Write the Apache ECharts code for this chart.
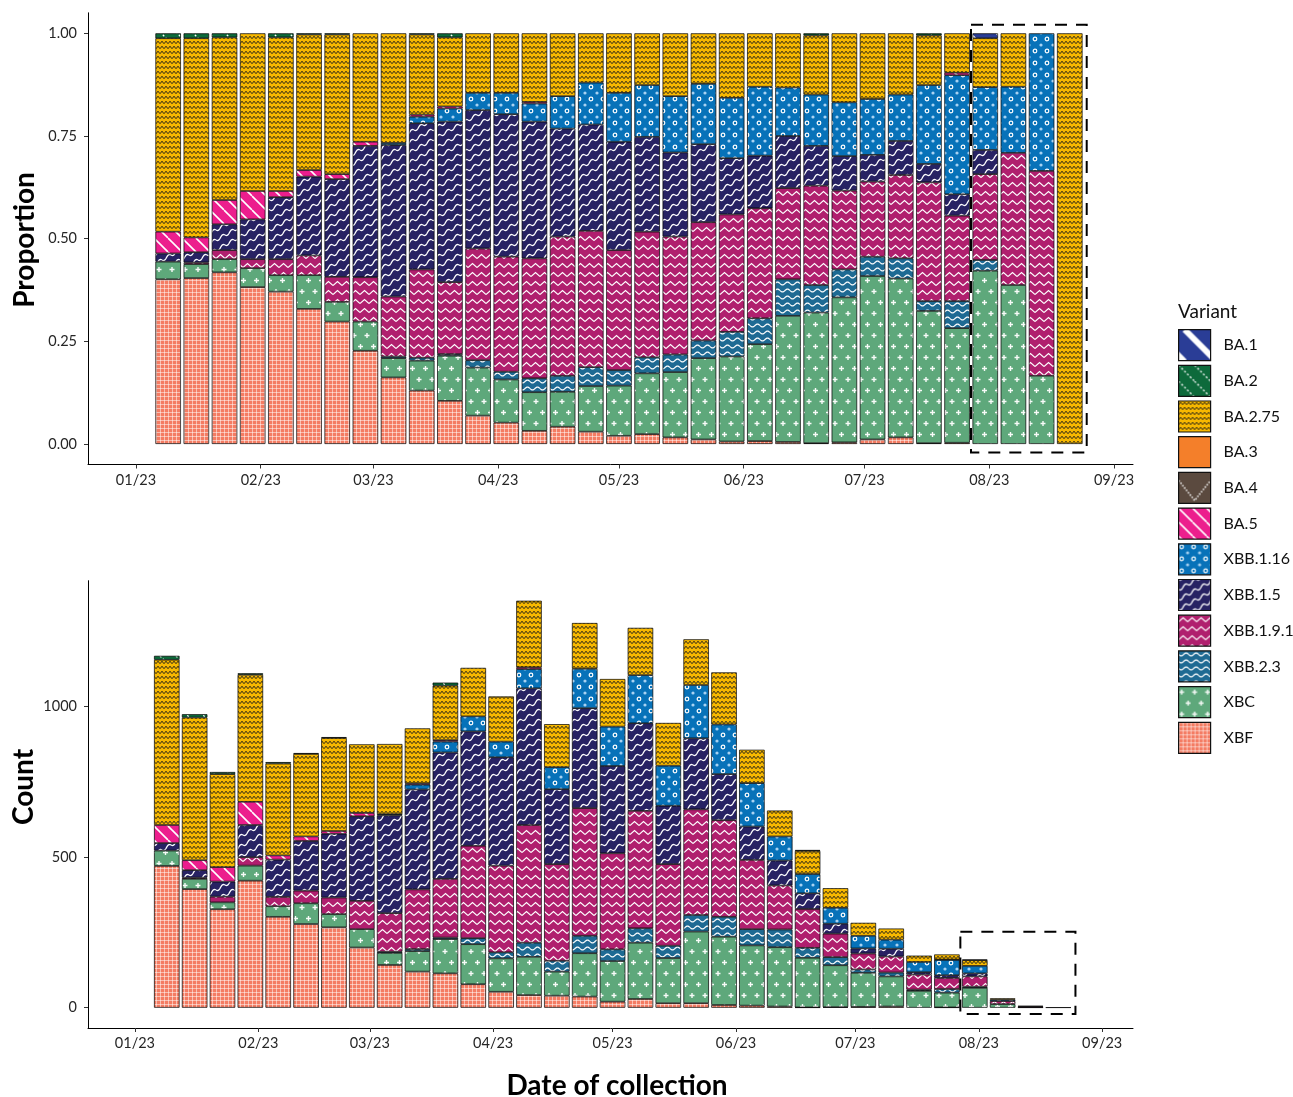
<!DOCTYPE html>
<html>
<head>
<meta charset="utf-8">
<script src="https://cdn.jsdelivr.net/npm/echarts@6/dist/echarts.min.js"></script>
<style>html,body{margin:0;padding:0;background:#fff;}#c{width:1293px;height:1097px;}</style>
</head>
<body>
<div id="c"></div>
<script>
// ---------- DATA ----------
const weeks = ['2023-01-09','2023-01-16','2023-01-23','2023-01-30','2023-02-06','2023-02-13','2023-02-20','2023-02-27','2023-03-06','2023-03-13','2023-03-20','2023-03-27','2023-04-03','2023-04-10','2023-04-17','2023-04-24','2023-05-01','2023-05-08','2023-05-15','2023-05-22','2023-05-29','2023-06-05','2023-06-12','2023-06-19','2023-06-26','2023-07-03','2023-07-10','2023-07-17','2023-07-24','2023-07-31','2023-08-07','2023-08-14','2023-08-21'];
const monthTicks = ['2023-01-01','2023-02-01','2023-03-01','2023-04-01','2023-05-01','2023-06-01','2023-07-01','2023-08-01','2023-09-01'];
const yTicksProp = [0, 0.25, 0.5, 0.75, 1];
const yTicksCount = [0, 500, 1000];
const variants = ['BA.1','BA.2','BA.2.75','BA.3','BA.4','BA.5','XBB.1.16','XBB.1.5','XBB.1.9.1','XBB.2.3','XBC','XBF'];

// proportions (top panel)
const pBA1    = [0,0,0,0,0,0,0,0,0,0,0,0,0,0,0,0,0,0,0,0,0,0,0,0,0,0,0,0,0,0.012,0,0,0];
const pBA2    = [0.012,0.012,0.010,0,0.010,0.003,0.003,0,0,0.003,0.010,0,0,0,0,0,0,0,0,0,0,0,0,0.005,0,0,0,0.005,0,0,0,0,0];
const pBA275  = [0.471,0.485,0.396,0.384,0.374,0.330,0.340,0.264,0.267,0.195,0.168,0.145,0.145,0.167,0.153,0.120,0.145,0.126,0.153,0.123,0.157,0.130,0.132,0.144,0.168,0.160,0.149,0.121,0.096,0.119,0.130,0,1.0];
const pBA3    = [0,0,0,0,0,0,0,0,0,0,0,0,0,0,0,0,0,0,0,0,0,0,0,0,0,0,0,0,0,0,0,0,0];
const pBA4    = [0,0,0,0,0,0,0,0,0,0,0,0,0,0,0,0,0,0,0,0,0,0,0,0,0,0,0,0,0,0,0,0,0];
const pBA5    = [0.053,0.036,0.059,0.069,0.015,0.016,0.012,0.010,0,0.005,0.005,0,0,0.004,0,0,0,0,0,0,0,0,0,0,0,0,0,0,0.006,0,0,0,0];
const pXBB116 = [0,0,0,0,0,0,0,0,0.005,0.016,0.032,0.042,0.052,0.044,0.079,0.102,0.119,0.126,0.137,0.147,0.147,0.168,0.118,0.125,0.131,0.136,0.113,0.192,0.290,0.153,0.161,0.335,0];
const pXBB15  = [0.020,0.025,0.063,0.097,0.151,0.192,0.238,0.320,0.369,0.356,0.391,0.337,0.347,0.333,0.263,0.259,0.264,0.231,0.205,0.190,0.137,0.128,0.127,0.097,0.084,0.065,0.083,0.045,0.052,0.059,0,0,0];
const pXBB191 = [0,0.004,0.022,0.022,0.039,0.048,0.061,0.108,0.146,0.215,0.175,0.272,0.280,0.292,0.339,0.332,0.292,0.306,0.287,0.288,0.286,0.268,0.222,0.242,0.192,0.183,0.203,0.289,0.208,0.209,0.322,0.499,0];
const pXBB23  = [0,0,0,0,0,0,0,0,0.004,0.007,0.004,0.018,0.019,0.034,0.039,0.046,0.038,0.039,0.043,0.043,0.060,0.063,0.089,0.067,0.068,0.047,0.049,0.024,0.066,0.026,0,0,0];
const pXBC    = [0.043,0.034,0.032,0.046,0.040,0.082,0.048,0.071,0.047,0.073,0.110,0.117,0.105,0.094,0.085,0.111,0.122,0.148,0.159,0.198,0.207,0.236,0.307,0.318,0.353,0.398,0.387,0.322,0.279,0.422,0.387,0.166,0];
const pXBF    = [0.401,0.404,0.418,0.382,0.371,0.329,0.298,0.227,0.162,0.130,0.105,0.069,0.052,0.032,0.042,0.030,0.020,0.024,0.016,0.011,0.006,0.007,0.005,0.002,0.004,0.011,0.016,0.002,0.003,0,0,0,0];

// counts (bottom panel)
const cBA1    = [0,0,0,0,0,0,0,0,0,0,0,0,0,0,0,0,0,0,0,0,0,0,0,0,0,0,0,0,0,2,0,0,0];
const cBA2    = [13,11,7,5,5,3,3,0,0,0,10,0,0,0,0,0,0,0,0,0,0,0,0,3,0,0,0,0,0,0,0,0,0];
const cBA275  = [549,474,309,422,305,274,309,228,233,183,181,161,150,221,143,152,158,157,142,152,173,111,86,77,65,43,37,21,17,19,4,0,1];
const cBA3    = [0,0,0,0,0,0,0,0,0,0,0,0,0,0,0,0,0,0,0,0,0,0,0,0,0,0,0,0,0,0,0,0,0];
const cBA4    = [0,0,0,0,0,0,0,0,0,0,0,0,0,0,0,0,0,0,0,0,0,0,0,0,0,0,0,0,0,0,0,0,0];
const cBA5    = [60,33,48,77,14,15,9,11,0,4,5,0,0,6,0,0,0,0,0,0,0,0,0,0,0,0,0,0,1,0,0,0,0];
const cXBB116 = [0,0,0,0,0,0,0,0,4,16,36,50,52,64,73,131,131,160,133,177,165,144,80,64,53,42,30,34,51,25,5,2,0];
const cXBB15  = [25,25,50,107,124,165,212,281,325,332,420,380,360,454,249,332,290,291,194,236,153,111,83,52,33,17,26,8,9,10,0,0,0];
const cXBB191 = [0,4,19,28,31,42,55,94,128,198,195,307,288,391,321,424,319,390,271,351,321,230,146,129,78,53,53,50,37,34,10,3,0];
const cXBB23  = [0,0,0,0,0,0,0,0,4,7,5,20,20,47,36,58,39,48,41,55,66,54,59,33,27,11,13,4,12,4,0,0,0];
const cXBC    = [51,34,23,50,35,69,44,61,40,68,114,133,111,127,80,144,135,187,150,238,227,200,197,165,139,113,100,56,49,66,12,1,0];
const cXBF    = [471,394,327,422,302,278,267,200,142,120,114,78,53,42,40,37,20,29,15,15,9,7,4,1,2,3,4,0,1,0,0,0,0];

// highlighted window (dashed boxes)
const hlTop    = {from: [2023,6,27,11], to: [2023,7,25,5], lo: -0.021, hi: 1.021};
const hlBottom = {from: [2023,6,27,9],  to: [2023,7,25,7], lo: -21,    hi: 252};

// ---------- HELPERS ----------
const ts = s => { const [y,m,d] = s.split('-').map(Number); return new Date(y, m-1, d).getTime(); };
const dt = a => new Date(a[0], a[1], a[2], a[3] || 0).getTime();
const propArr = {'BA.1':pBA1,'BA.2':pBA2,'BA.2.75':pBA275,'BA.3':pBA3,'BA.4':pBA4,'BA.5':pBA5,'XBB.1.16':pXBB116,'XBB.1.5':pXBB15,'XBB.1.9.1':pXBB191,'XBB.2.3':pXBB23,'XBC':pXBC,'XBF':pXBF};
const cntArr  = {'BA.1':cBA1,'BA.2':cBA2,'BA.2.75':cBA275,'BA.3':cBA3,'BA.4':cBA4,'BA.5':cBA5,'XBB.1.16':cXBB116,'XBB.1.5':cXBB15,'XBB.1.9.1':cXBB191,'XBB.2.3':cXBB23,'XBC':cXBC,'XBF':cXBF};

function tile(w, h, bg, fn) {
  const c = document.createElement('canvas'); c.width = w; c.height = h;
  const g = c.getContext('2d'); g.fillStyle = bg; g.fillRect(0, 0, w, h);
  if (fn) fn(g, w, h);
  return {image: c, repeat: 'repeat'};
}
function backDiag(g, w, h, off) {
  for (const k of [-1, 0, 1]) { g.beginPath(); g.moveTo(k*w + off, 0); g.lineTo(k*w + off + h, h); g.stroke(); }
}
const patterns = {
  'BA.1': tile(32, 32, '#2a3d96', (g,w,h) => { g.strokeStyle = '#fff'; g.lineWidth = 6; backDiag(g,w,h,6); }),
  'BA.2': tile(16, 16, '#0d6a3b', (g,w,h) => { g.strokeStyle = '#fff'; g.lineWidth = 1.3; g.setLineDash([2,2]); backDiag(g,w,h,0); }),
  'BA.2.75': tile(4, 5, '#f7b800', (g) => { g.strokeStyle = '#1a1a1a'; g.lineWidth = 0.9; g.beginPath(); g.moveTo(0,3.8); g.lineTo(2,1.2); g.lineTo(4,3.8); g.stroke(); }),
  'BA.3': '#f47f2a',
  'BA.4': tile(32, 32, '#5b4a3f', (g) => { g.strokeStyle = '#fff'; g.lineWidth = 1.5; g.setLineDash([1.5,1.5]); g.beginPath(); g.moveTo(0,8); g.lineTo(16,28); g.lineTo(32,8); g.stroke(); }),
  'BA.5': tile(14, 14, '#ec1e8d', (g,w,h) => { g.strokeStyle = '#fff'; g.lineWidth = 1.6; backDiag(g,w,h,0); }),
  'XBB.1.16': tile(12, 12, '#0772b9', (g) => { g.strokeStyle = '#fff'; g.lineWidth = 1.2; g.beginPath(); g.arc(3,3,1.8,0,Math.PI*2); g.stroke(); g.fillStyle = '#a8d2f2'; g.beginPath(); g.arc(9,9,1.6,0,Math.PI*2); g.fill(); }),
  'XBB.1.5': tile(18, 10, '#272263', (g,w,h) => { g.strokeStyle = '#fff'; g.lineWidth = 1.3;
      for (const o of [-h, 0, h]) { g.beginPath(); for (let x = 0; x <= w; x += 0.5) { const y = h - x*h/w + o + 1.6*Math.sin(4*Math.PI*x/w); if (x === 0) g.moveTo(x,y); else g.lineTo(x,y); } g.stroke(); } }),
  'XBB.1.9.1': tile(9, 9, '#b01f6e', (g) => { g.strokeStyle = '#fff'; g.lineWidth = 1.1; g.beginPath(); g.moveTo(0,6.5); g.lineTo(4.5,2.5); g.lineTo(9,6.5); g.stroke(); }),
  'XBB.2.3': tile(10, 7, '#1e6a93', (g,w) => { g.strokeStyle = '#fff'; g.lineWidth = 1.2; g.beginPath(); for (let x = 0; x <= w; x += 0.5) { const y = 3.5 + 1.4*Math.sin(2*Math.PI*x/w); if (x === 0) g.moveTo(x,y); else g.lineTo(x,y); } g.stroke(); }),
  'XBC': tile(13, 22, '#5ea87b', (g) => { g.strokeStyle = 'rgba(255,255,255,0.95)'; g.lineWidth = 1.4;
      for (const [cx,cy] of [[3,5.5],[9.5,16.5]]) { g.beginPath(); g.moveTo(cx-2.5,cy); g.lineTo(cx+2.5,cy); g.moveTo(cx,cy-2.5); g.lineTo(cx,cy+2.5); g.stroke(); } }),
  'XBF': tile(4, 4, '#f47c63', (g) => { g.strokeStyle = 'rgba(255,255,255,0.5)'; g.lineWidth = 1; g.beginPath(); g.moveTo(0.5,0); g.lineTo(0.5,4); g.moveTo(0,0.5); g.lineTo(4,0.5); g.stroke(); })
};

const stackOrder = variants.slice().reverse(); // XBF at bottom, BA.1 on top
const FONT = 'Lato, "DejaVu Sans", sans-serif';

// data rows are [value, date] so the value column is the one ECharts stacks
function barSeries(gi, arrs) {
  return stackOrder.map(name => ({
    type: 'bar', name, xAxisIndex: gi, yAxisIndex: gi, stack: 'g' + gi,
    barWidth: 25.5, z: 2,
    encode: {x: 1, y: 0},
    emphasis: {disabled: true},
    itemStyle: {color: patterns[name], borderColor: '#000', borderWidth: 0.7},
    data: weeks.map((w, i) => [arrs[name][i] > 0 ? arrs[name][i] : '-', ts(w)])
  }));
}
function boxSeries(gi, hl) {
  return {
    type: 'custom', xAxisIndex: gi, yAxisIndex: gi, z: 10, silent: true,
    encode: {x: [0, 2], y: [1, 3]},
    data: [[dt(hl.from), hl.lo, dt(hl.to), hl.hi]],
    renderItem: (params, api) => {
      const p1 = api.coord([api.value(0), api.value(1)]);
      const p2 = api.coord([api.value(2), api.value(3)]);
      return {type: 'rect', shape: {x: p1[0], y: p2[1], width: p2[0] - p1[0], height: p1[1] - p2[1]},
              style: {fill: 'none', stroke: '#000', lineWidth: 2, lineDash: [12, 9]}};
    }
  };
}
const pad = n => String(n).padStart(2, '0');
function xAxisCfg(gi, min, max) {
  const vals = monthTicks.map(ts);
  return {
    type: 'value', gridIndex: gi, min, max, scale: true,
    axisLine: {show: true, onZero: false, lineStyle: {color: '#000', width: 1}},
    axisTick: {show: true, length: 4, lineStyle: {color: '#333'}, customValues: vals},
    axisLabel: {customValues: vals, margin: 8, fontFamily: FONT, fontSize: 14.5, color: '#262626',
      formatter: v => { const d = new Date(v); return pad(d.getMonth() + 1) + '/' + String(d.getFullYear()).slice(2); }},
    splitLine: {show: false}
  };
}
function yAxisCfg(gi, min, max, ticks, fmt) {
  return {
    type: 'value', gridIndex: gi, min, max,
    axisLine: {show: true, onZero: false, lineStyle: {color: '#000', width: 1}},
    axisTick: {show: true, length: 4, lineStyle: {color: '#333'}, customValues: ticks},
    axisLabel: {customValues: ticks, margin: 11, fontFamily: FONT, fontSize: 14.5, color: '#262626', formatter: fmt},
    splitLine: {show: false}
  };
}

const chart = echarts.init(document.getElementById('c'), null, {renderer: 'canvas'});
chart.setOption({
  animation: false,
  backgroundColor: '#fff',
  title: {text: 'Variant', left: 1178, top: 302, padding: 0, textStyle: {fontFamily: FONT, fontSize: 19, fontWeight: 'normal', color: '#111'}},
  legend: {
    data: variants, orient: 'vertical', left: 1178, top: 329, padding: 0,
    itemWidth: 32, itemHeight: 31, itemGap: 3.5, icon: 'rect', selectedMode: false,
    itemStyle: {borderColor: '#111', borderWidth: 1.2},
    textStyle: {fontFamily: FONT, fontSize: 16, color: '#111', padding: [0, 0, 0, 8]}
  },
  grid: [
    {left: 88, right: 160, top: 12.8, height: 451.7},
    {left: 88, right: 160, top: 580.7, height: 447.3}
  ],
  xAxis: [
    xAxisCfg(0, new Date(2022, 11, 20, 2).getTime(), new Date(2023, 8, 5, 17).getTime()),
    xAxisCfg(1, new Date(2022, 11, 20, 5).getTime(), new Date(2023, 8, 8, 18).getTime())
  ],
  yAxis: [
    yAxisCfg(0, -0.05, 1.05, yTicksProp, v => Number(v).toFixed(2)),
    yAxisCfg(1, -67.4, 1418.6, yTicksCount, v => String(v))
  ],
  graphic: [
    {type: 'text', x: 25, y: 240, rotation: Math.PI / 2, style: {text: 'Proportion', font: 'bold 28px ' + FONT, fill: '#000', align: 'center', verticalAlign: 'middle'}},
    {type: 'text', x: 24, y: 787, rotation: Math.PI / 2, style: {text: 'Count', font: 'bold 28px ' + FONT, fill: '#000', align: 'center', verticalAlign: 'middle'}},
    {type: 'text', x: 617, y: 1086, style: {text: 'Date of collection', font: 'bold 28px ' + FONT, fill: '#000', align: 'center', verticalAlign: 'middle'}}
  ],
  series: [].concat(barSeries(0, propArr), barSeries(1, cntArr), [boxSeries(0, hlTop), boxSeries(1, hlBottom)])
});
</script>
</body>
</html>
